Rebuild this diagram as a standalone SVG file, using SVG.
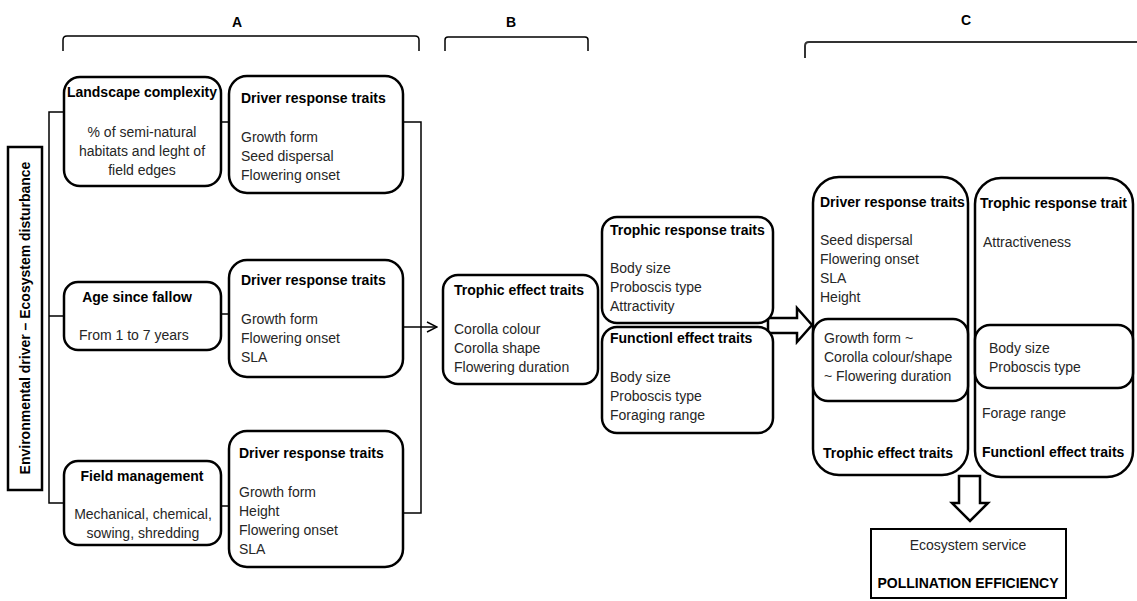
<svg xmlns="http://www.w3.org/2000/svg" width="1137" height="601" viewBox="0 0 1137 601">
<style>
.box{fill:#fff;stroke:#000;stroke-width:2.5}
.t{font-family:"Liberation Sans",Arial,sans-serif;font-size:14px;fill:#262626}
.b{font-family:"Liberation Sans",Arial,sans-serif;font-size:14px;font-weight:bold;fill:#000}
.c{text-anchor:middle}
.ln{fill:none;stroke:#000;stroke-width:1.5}
.hl{fill:#fff;stroke:#000;stroke-width:2.5;stroke-linejoin:miter}
</style>
<defs>
<marker id="open" viewBox="0 0 12 12" refX="11" refY="6" markerWidth="12" markerHeight="12" markerUnits="userSpaceOnUse" orient="auto">
<path d="M1,1 L11,6 L1,11" fill="none" stroke="#000" stroke-width="1.4"/>
</marker>
</defs>
<rect width="1137" height="601" fill="#fff"/>

<g id="headers">
<text class="b c" x="237" y="27" font-size="15">A</text>
<text class="b c" x="511" y="27" font-size="15">B</text>
<text class="b c" x="966" y="25" font-size="15">C</text>
<path class="ln" d="M63,51 L63,40 Q63,36 67,36 L415,36 Q419,36 419,40 L419,51"/>
<path class="ln" d="M445,51 L445,40 Q445,37 448,37 L585,37 Q588,37 588,40 L588,51"/>
<path d="M805,58 L805,46 Q805,42 809,42 L1137,42" fill="none" stroke="#333" stroke-width="2"/>
</g>

<g id="connectors">
<path class="ln" d="M64,112 L49,112 L49,503 L64,503 M49,316 L64,316"/>
<path class="ln" d="M221,122 L229,122 M221,314 L229,314 M221,506 L229,506"/>
<path class="ln" d="M403,122 L421,122 L421,513 L403,513"/>
<path class="ln" d="M403,327 L437,327" marker-end="url(#open)"/>
<polygon class="hl" points="768,318 797,318 797,308 812,325 797,342 797,333 768,333"/>
<polygon class="hl" points="959,476 980,476 980,503 988,503 970,521 952,503 959,503"/>
</g>

<g id="env-driver">
<rect x="8" y="147" width="34" height="343" fill="#fff" stroke="#000" stroke-width="2.5"/>
<text class="b c" transform="translate(30,318) rotate(-90)">Environmental driver – Ecosystem disturbance</text>
</g>

<g id="landscape">
<rect class="box" x="64" y="77" width="157" height="109" rx="16"/>
<text class="b c" x="142" y="97">Landscape complexity</text>
<text class="t c" x="142" y="137">% of semi-natural</text>
<text class="t c" x="142" y="156">habitats and leght of</text>
<text class="t c" x="142" y="175">field edges</text>
</g>

<g id="driver1">
<rect class="box" x="229" y="76" width="174" height="117" rx="18"/>
<text class="b" x="241" y="103">Driver response traits</text>
<text class="t" x="241" y="142">Growth form</text>
<text class="t" x="241" y="161">Seed dispersal</text>
<text class="t" x="241" y="180">Flowering onset</text>
</g>

<g id="age">
<rect class="box" x="64" y="282" width="157" height="68" rx="14"/>
<text class="b c" x="137" y="302">Age since fallow</text>
<text class="t" x="79" y="340">From 1 to 7 years</text>
</g>

<g id="driver2">
<rect class="box" x="229" y="260" width="174" height="117" rx="18"/>
<text class="b" x="241" y="285">Driver response traits</text>
<text class="t" x="241" y="324">Growth form</text>
<text class="t" x="241" y="343">Flowering onset</text>
<text class="t" x="241" y="362">SLA</text>
</g>

<g id="field">
<rect class="box" x="64" y="461" width="157" height="84" rx="14"/>
<text class="b c" x="142" y="481">Field management</text>
<text class="t c" x="143" y="519">Mechanical, chemical,</text>
<text class="t c" x="143" y="538">sowing, shredding</text>
</g>

<g id="driver3">
<rect class="box" x="229" y="431" width="174" height="136" rx="18"/>
<text class="b" x="239" y="458">Driver response traits</text>
<text class="t" x="239" y="497">Growth form</text>
<text class="t" x="239" y="516">Height</text>
<text class="t" x="239" y="535">Flowering onset</text>
<text class="t" x="239" y="554">SLA</text>
</g>

<g id="trophic-effect">
<rect class="box" x="443" y="275" width="155" height="109" rx="15"/>
<text class="b" x="454" y="295">Trophic effect traits</text>
<text class="t" x="454" y="334">Corolla colour</text>
<text class="t" x="454" y="353">Corolla shape</text>
<text class="t" x="454" y="372">Flowering duration</text>
</g>

<g id="trophic-response">
<rect class="box" x="602" y="217" width="171" height="106" rx="15"/>
<text class="b" x="610" y="235">Trophic response traits</text>
<text class="t" x="610" y="273">Body size</text>
<text class="t" x="610" y="292">Proboscis type</text>
<text class="t" x="610" y="311">Attractivity</text>
</g>

<g id="functional-effect">
<rect class="box" x="602" y="327" width="171" height="106" rx="15"/>
<text class="b" x="610" y="343">Functionl effect traits</text>
<text class="t" x="610" y="382">Body size</text>
<text class="t" x="610" y="401">Proboscis type</text>
<text class="t" x="610" y="420">Foraging range</text>
</g>

<g id="c-plant">
<rect class="box" x="813" y="177" width="155" height="298" rx="26"/>
<rect class="box" x="813" y="319" width="155" height="82" rx="15"/>
<text class="b" x="820" y="207">Driver response traits</text>
<text class="t" x="820" y="245">Seed dispersal</text>
<text class="t" x="820" y="264">Flowering onset</text>
<text class="t" x="820" y="283">SLA</text>
<text class="t" x="820" y="302">Height</text>
<text class="t" x="824" y="343">Growth form ~</text>
<text class="t" x="824" y="362">Corolla colour/shape</text>
<text class="t" x="824" y="381">~ Flowering duration</text>
<text class="b" x="823" y="458">Trophic effect traits</text>
</g>

<g id="c-pollinator">
<rect class="box" x="975" y="178" width="158" height="299" rx="26"/>
<rect class="box" x="975" y="325" width="158" height="63" rx="15"/>
<text class="b" x="980" y="208">Trophic response trait</text>
<text class="t" x="983" y="247">Attractiveness</text>
<text class="t" x="989" y="353">Body size</text>
<text class="t" x="989" y="372">Proboscis type</text>
<text class="t" x="982" y="418">Forage range</text>
<text class="b" x="982" y="457">Functionl effect traits</text>
</g>

<g id="ecosystem-service">
<rect x="871" y="529" width="195" height="69" fill="#fff" stroke="#000" stroke-width="2"/>
<text class="t c" x="968" y="550">Ecosystem service</text>
<text class="b c" x="968" y="588">POLLINATION EFFICIENCY</text>
</g>
</svg>
